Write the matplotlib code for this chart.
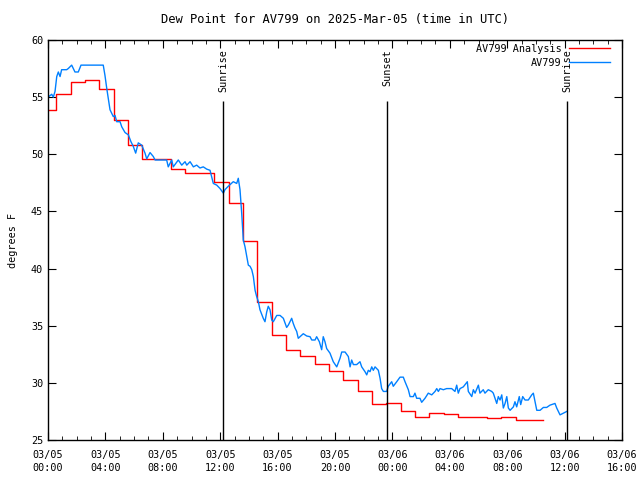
import pandas as pd
import matplotlib
matplotlib.use('Agg')
import matplotlib.pyplot as plt
import matplotlib.dates as mdates

start = pd.Timestamp('2025-03-05 00:00')

# AV799 observations (hours since 03/05 00:00 UTC, dew point F)
obs_hours = [0.0, 0.26, 0.37, 0.49, 0.61, 0.72, 0.84, 0.95, 1.30, 1.41, 1.65, 1.88, 2.11, 2.30,
             3.85, 3.97, 4.09, 4.20, 4.32, 4.55, 4.67, 4.79, 5.02, 5.14, 5.37, 5.60, 5.78, 5.94,
             6.11, 6.29, 6.53, 6.76, 6.88, 7.11, 7.34, 7.46, 8.27, 8.38, 8.62, 8.73, 9.08, 9.32,
             9.55, 9.67, 9.90, 10.13, 10.36, 10.59, 10.82, 11.06, 11.29, 11.41, 11.52, 11.76,
             11.99, 12.22, 12.33, 12.56, 12.91, 13.15, 13.26, 13.38, 13.50, 13.61, 13.73, 13.85,
             13.96, 14.08, 14.20, 14.31, 14.43, 14.54, 14.66, 14.77, 15.00, 15.12, 15.24, 15.35,
             15.47, 15.59, 15.70, 15.94, 16.17, 16.40, 16.63, 16.75, 16.98, 17.09, 17.21, 17.33,
             17.44, 17.56, 17.79, 18.03, 18.26, 18.38, 18.61, 18.72, 18.91, 19.07, 19.18, 19.30,
             19.42, 19.65, 19.88, 20.12, 20.35, 20.47, 20.70, 20.93, 21.05, 21.16, 21.28, 21.51,
             21.74, 21.86, 22.09, 22.21, 22.32, 22.44, 22.56, 22.67, 22.79, 23.02, 23.14, 23.25,
             23.37, 23.60, 23.71, 23.95, 24.06, 24.30, 24.53, 24.76, 24.88, 25.11, 25.23, 25.46,
             25.57, 25.69, 25.92, 26.04, 26.27, 26.50, 26.74, 26.97, 27.09, 27.20, 27.32, 27.55,
             27.78, 28.13, 28.36, 28.48, 28.59, 28.71, 28.94, 29.22, 29.29, 29.53, 29.64, 29.76,
             29.99, 30.10, 30.33, 30.45, 30.68, 30.92, 31.03, 31.27, 31.38, 31.50, 31.62, 31.73,
             31.85, 31.97, 32.08, 32.20, 32.43, 32.54, 32.66, 32.84, 32.94, 33.08, 33.24, 33.47,
             33.71, 33.82, 33.94, 34.06, 34.29, 34.52, 34.75, 34.98, 35.21, 35.33, 35.45, 35.68,
             35.91, 36.15]
obs_dewp = [55.0, 55.25, 55.0, 55.5, 56.8, 57.2, 56.8, 57.4, 57.4, 57.5, 57.8, 57.2, 57.2, 57.8,
            57.8, 56.9, 55.8, 54.9, 53.9, 53.3, 53.4, 52.85, 52.85, 52.4, 51.9, 51.7, 51.1, 50.7,
            50.1, 51.0, 50.8, 50.1, 49.6, 50.15, 49.8, 49.5, 49.5, 48.9, 49.5, 48.9, 49.5, 49.05,
            49.35, 49.05, 49.35, 48.9, 49.05, 48.8, 48.9, 48.7, 48.6, 48.0, 47.45, 47.3,
            47.0, 46.6, 46.9, 47.2, 47.6, 47.45, 47.9, 46.9, 44.8, 42.5, 41.9, 41.05,
            40.3, 40.2, 39.9, 39.3, 38.1, 37.55, 37.1, 36.4, 35.65, 35.35, 36.2, 36.7,
            36.4, 35.5, 35.35, 35.9, 35.9, 35.65, 34.85, 35.06, 35.65, 35.2, 34.8, 34.5,
            33.9, 34.04, 34.3, 34.1, 34.04, 33.75, 33.75, 34.04, 33.6, 32.9, 34.04, 33.6,
            33.0, 32.6, 31.85, 31.4, 32.15, 32.7, 32.7, 32.3, 31.4, 32.0, 31.6, 31.6,
            31.85, 31.4, 30.98, 30.7, 31.1, 30.98, 31.4, 31.1, 31.4, 31.1, 30.4, 29.5,
            29.25, 29.25, 29.7, 30.1, 29.7, 30.1, 30.5, 30.5, 30.1, 29.4, 28.8, 28.8,
            29.1, 28.65, 28.65, 28.3, 28.65, 29.1, 28.95, 29.25, 29.5, 29.25, 29.5, 29.4,
            29.5, 29.5, 29.25, 29.8, 29.1, 29.5, 29.65, 30.1, 29.25, 28.8, 29.4, 29.1,
            29.8, 29.1, 29.4, 29.1, 29.4, 29.25, 29.1, 28.2, 28.8, 28.5, 28.95, 27.8,
            28.2, 28.8, 27.8, 27.6, 27.9, 28.35, 27.9, 28.8, 28.1, 28.8, 28.5, 28.5,
            28.95, 29.1, 28.35, 27.6, 27.6, 27.85, 27.85, 28.05, 28.15, 28.2, 27.8, 27.2,
            27.35, 27.5]

# hourly analysis values
ana_hours = [0.0, 0.58, 1.58, 2.58, 3.58, 4.58, 5.58, 6.58, 7.58, 8.58, 9.58, 10.58, 11.58,
             12.58, 13.58, 14.58, 15.58, 16.58, 17.58, 18.58, 19.58, 20.58, 21.58, 22.58, 23.58,
             24.58, 25.58, 26.58, 27.58, 28.58, 29.58, 30.58, 31.58, 32.58, 33.58, 34.5]
ana_dewp = [53.9, 55.3, 56.3, 56.5, 55.7, 53.0, 50.8, 49.55, 49.55, 48.7, 48.35, 48.35, 47.55,
            45.7, 42.4, 37.1, 34.2, 32.9, 32.35, 31.65, 31.0, 30.25, 29.3, 28.15, 28.25, 27.55,
            27.05, 27.35, 27.25, 27.05, 27.05, 26.9, 27.0, 26.75, 26.75, 26.75]

events = ['Sunrise', 'Sunset', 'Sunrise']
event_hours = [12.2, 23.62, 36.17]

obs_t = [start + pd.Timedelta(hours=h) for h in obs_hours]
ana_t = [start + pd.Timedelta(hours=h) for h in ana_hours]
ev_t = [start + pd.Timedelta(hours=h) for h in event_hours]

plt.rcParams['font.family'] = 'DejaVu Sans Mono'
plt.rcParams['font.size'] = 7.3

fig = plt.figure(figsize=(6.4, 4.8), dpi=100)
ax = fig.add_axes([0.075, 0.0833, 0.8969, 0.8334])

ax.plot(ana_t, ana_dewp, color='#ff0000', lw=1.0, drawstyle='steps-post', label='AV799 Analysis')
ax.plot(obs_t, obs_dewp, color='#0080ff', lw=1.0, label='AV799')

for name, t in zip(events, ev_t):
    ax.vlines(t, 25, 54.7, color='black', lw=1.0)
    ax.text(t, 59.2, name, rotation=90, ha='center', va='top')

ax.set_xlim(start, start + pd.Timedelta(hours=40))
ax.set_ylim(25, 60)
ax.xaxis.set_major_locator(mdates.HourLocator(byhour=[0, 4, 8, 12, 16, 20]))
ax.xaxis.set_minor_locator(mdates.HourLocator())
ax.xaxis.set_major_formatter(mdates.DateFormatter('%m/%d\n%H:%M'))
ax.set_yticks(range(25, 61, 5))
ax.tick_params(which='both', direction='in', top=True, right=True)
ax.tick_params(which='major', length=6)
ax.tick_params(which='minor', length=3)
ax.tick_params(axis='x', pad=7)
for lab in ax.get_xticklabels():
    lab.set_linespacing(1.45)
for s in ax.spines.values():
    s.set_linewidth(1.0)

ax.set_title('Dew Point for AV799 on 2025-Mar-05 (time in UTC)', pad=12)
ax.set_ylabel('degrees F')
ax.yaxis.set_label_coords(-0.053, 0.5)

leg = ax.legend(loc='upper right', bbox_to_anchor=(0.979, 0.99), frameon=False,
                markerfirst=False, handlelength=4, handletextpad=0.8,
                borderaxespad=0, borderpad=0, labelspacing=0.35)
for t in leg.get_texts():
    t.set_ha('right')

fig.savefig('out.png')
